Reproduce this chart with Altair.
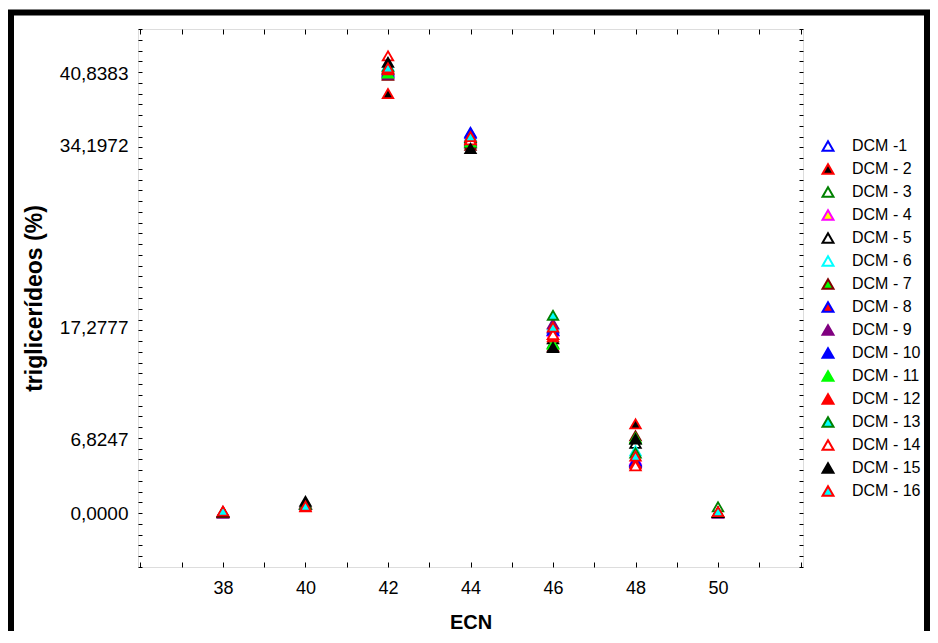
import altair as alt
import pandas as pd

# ---------------- data ----------------
ecn = [38, 40, 42, 44, 46, 48, 50]

series = ["DCM -1", "DCM - 2", "DCM - 3", "DCM - 4", "DCM - 5", "DCM - 6",
          "DCM - 7", "DCM - 8", "DCM - 9", "DCM - 10", "DCM - 11", "DCM - 12",
          "DCM - 13", "DCM - 14", "DCM - 15", "DCM - 16"]

fills = ["#ffffff", "#000000", "#ffffff", "#ffff00", "#ffffff", "#ffffff",
         "#00ff00", "#ff0000", "#800080", "#0000ff", "#00ff00", "#ff0000",
         "#00ffff", "#ffffff", "#000000", "#00ffff"]
strokes = ["#0000ff", "#ff0000", "#008000", "#ff00ff", "#000000", "#00ffff",
           "#800000", "#0000ff", "#800080", "#0000ff", "#00ff00", "#ff0000",
           "#008000", "#ff0000", "#000000", "#ff0000"]

dcm_1 = [0.10, 0.80, 41.2, 35.4, 17.0, 4.8, 0.05]
dcm_2 = [0.10, 0.80, 39.0, 34.6, 16.6, 8.3, 0.05]
dcm_3 = [0.05, 0.80, 40.9, 34.5, 15.8, 6.9, 0.60]
dcm_4 = [0.10, 0.80, 41.0, 34.8, 16.9, 5.0, 0.05]
dcm_5 = [0.10, 0.90, 41.3, 34.4, 16.2, 6.5, 0.05]
dcm_6 = [0.10, 0.80, 41.6, 35.1, 17.5, 5.8, 0.05]
dcm_7 = [0.05, 0.90, 40.7, 34.2, 15.5, 7.2, 0.05]
dcm_8 = [0.10, 0.80, 41.0, 35.3, 17.0, 4.7, 0.05]
dcm_9 = [0.00, 0.80, 40.8, 34.6, 17.6, 4.8, 0.00]
dcm_10 = [0.10, 0.80, 41.1, 34.9, 17.2, 4.9, 0.05]
dcm_11 = [0.05, 0.80, 40.9, 34.5, 15.7, 7.0, 0.05]
dcm_12 = [0.10, 0.80, 41.2, 34.8, 16.4, 4.6, 0.05]
dcm_13 = [0.10, 0.80, 41.5, 34.9, 18.4, 5.6, 0.05]
dcm_14 = [0.10, 0.60, 42.5, 34.7, 16.6, 4.4, 0.10]
dcm_15 = [0.10, 1.10, 41.9, 33.9, 15.4, 6.9, 0.05]
dcm_16 = [0.20, 0.65, 41.4, 35.0, 17.3, 5.3, 0.15]

values = [dcm_1, dcm_2, dcm_3, dcm_4, dcm_5, dcm_6, dcm_7, dcm_8, dcm_9,
          dcm_10, dcm_11, dcm_12, dcm_13, dcm_14, dcm_15, dcm_16]

x_labels = [38, 40, 42, 44, 46, 48, 50]
y_labels = [0.0, 6.8247, 17.2777, 34.1972, 40.8383]
x_minor = list(range(36, 53))
y_minor = list(range(-5, 46))

rows = []
for name, vals in zip(series, values):
    for e, v in zip(ecn, vals):
        rows.append({"ECN": e, "pct": v, "serie": name})
df = pd.DataFrame(rows)

# ---------------- chart ----------------
FONT = "Liberation Sans"
xs = alt.Scale(domain=[35.94, 52.06], nice=False, zero=False)
ys = alt.Scale(domain=[-5.0, 45.0], nice=False, zero=False)

leg = alt.Legend(title=None, orient="none", legendX=682, legendY=109,
                 symbolType="triangle-up", symbolSize=120, symbolStrokeWidth=2,
                 labelFont=FONT, labelFontSize=16, labelColor="black",
                 labelOffset=16, rowPadding=5, padding=0)

points = alt.Chart(df).mark_point(
    shape="triangle-up", size=110, strokeWidth=1.8, filled=True, opacity=1
).encode(
    x=alt.X("ECN:Q", scale=xs, axis=alt.Axis(
        orient="bottom", values=x_labels, ticks=False, domain=False, grid=False,
        labelFont=FONT, labelFontSize=18, labelColor="black", labelPadding=12,
        labelFlush=False, title="ECN", titleFont=FONT, titleFontSize=20,
        titleFontWeight="bold", titleColor="black", titlePadding=15)),
    y=alt.Y("pct:Q", scale=ys, axis=alt.Axis(
        orient="left", values=y_labels, ticks=False, domain=False, grid=False,
        labelExpr="replace(format(datum.value, '.4f'), '.', ',')",
        labelFont=FONT, labelFontSize=19, labelColor="black", labelPadding=10,
        title="triglicerídeos (%)", titleFont=FONT, titleFontSize=23,
        titleFontWeight="bold", titleColor="black", titleX=-104,
        titleBaseline="middle")),
    fill=alt.Fill("serie:N", scale=alt.Scale(domain=series, range=fills),
                  sort=series, legend=leg),
    stroke=alt.Stroke("serie:N", scale=alt.Scale(domain=series, range=strokes),
                      sort=series, legend=leg),
)

ticks_a = alt.Chart(df).mark_point(opacity=0).encode(
    x=alt.X("ECN:Q", scale=xs, axis=alt.Axis(
        orient="top", values=x_minor, labels=False, domain=False, grid=False,
        tickSize=5, tickColor="black", tickWidth=1, offset=-5, title=None)),
    y=alt.Y("pct:Q", scale=ys, axis=alt.Axis(
        orient="left", values=y_minor, labels=False, domain=False, grid=False,
        tickSize=4, tickColor="black", tickWidth=1, offset=-4, title=None)),
)

ticks_b = alt.Chart(df).mark_point(opacity=0).encode(
    x=alt.X("ECN:Q", scale=xs, axis=alt.Axis(
        orient="bottom", values=x_minor, labels=False, domain=False, grid=False,
        tickSize=5, tickColor="black", tickWidth=1, offset=-5, title=None)),
    y=alt.Y("pct:Q", scale=ys, axis=alt.Axis(
        orient="right", values=y_minor, labels=False, domain=False, grid=False,
        tickSize=4, tickColor="black", tickWidth=1, offset=-4, title=None)),
)

frame = alt.Chart(pd.DataFrame({"k": [0]})).mark_rect(
    fill="white", fillOpacity=0, stroke="black", strokeWidth=6
).encode(x=alt.value(-127), x2=alt.value(789), y=alt.value(-16.5), y2=alt.value(700))

chart = alt.layer(frame, points, ticks_a, ticks_b).resolve_axis(
    x="independent", y="independent"
).properties(
    width=665, height=538,
    autosize=alt.AutoSizeParams(type="none"),
    padding={"left": 130, "top": 21, "right": 127, "bottom": 64},
).configure_view(
    stroke="black", strokeWidth=2
).configure(background="white")

chart.save("out.html", embed_options={"renderer": "svg", "actions": False})
